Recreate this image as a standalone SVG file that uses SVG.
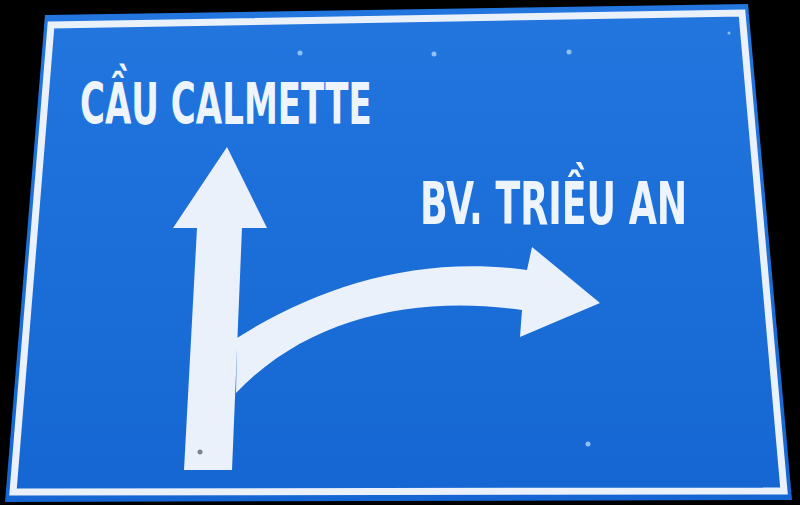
<svg xmlns="http://www.w3.org/2000/svg" width="800" height="505" viewBox="0 0 800 505">
  <defs>
    <style>
      .label { fill: #eef4fb; font-family: "DejaVu Sans Condensed", "DejaVu Sans", sans-serif; font-weight: bold; }
      .white { fill: #eaf1fa; }
      .rivet { fill: #8fc0f0; }
    </style>
    <linearGradient id="blue" x1="0" y1="0" x2="0" y2="1">
      <stop offset="0" stop-color="#2276de"/>
      <stop offset="1" stop-color="#1566d2"/>
    </linearGradient>
  </defs>
  <rect x="0" y="0" width="800" height="505" fill="#000"/>
  <g id="sign">
    <polygon points="45,15 748,4 792,500 5,502" fill="url(#blue)"/>
    <polygon points="51,25 742,13 784,491 13,492" fill="none" stroke="#eaf1fa" stroke-width="7" stroke-linejoin="miter"/>
  </g>
  <g id="rivets">
    <circle class="rivet" cx="300" cy="53" r="2.5"/>
    <circle class="rivet" cx="434" cy="54" r="2.5"/>
    <circle class="rivet" cx="569" cy="52" r="2.5"/>
    <circle class="rivet" cx="729" cy="33" r="1.5"/>
    <circle class="rivet" cx="588" cy="444" r="2.5"/>
  </g>
  <g id="label-calmette" transform="translate(80,124) scale(0.68,1)">
    <text class="label" x="0" y="0" font-size="57" textLength="429" lengthAdjust="spacingAndGlyphs">CẦU CALMETTE</text>
  </g>
  <g id="label-trieu-an" transform="translate(420,224) scale(0.68,1)">
    <text class="label" x="0" y="0" font-size="59" textLength="393" lengthAdjust="spacingAndGlyphs">BV. TRIỀU AN</text>
  </g>
  <g id="connectors">
    <path id="arrow-straight" class="white" d="M227,147 L267,228 L242,228 L232,470 L184,470 L197,228 L173,228 Z"/>
    <path id="arrow-right" class="white" d="M237,338 C320,285 420,255 527,270 L532,247 L600,303 L520,337 L522,310 C420,295 310,315 236,393 Z"/>
    <circle cx="200" cy="452" r="2.5" fill="#7a8590"/>
  </g>
</svg>
